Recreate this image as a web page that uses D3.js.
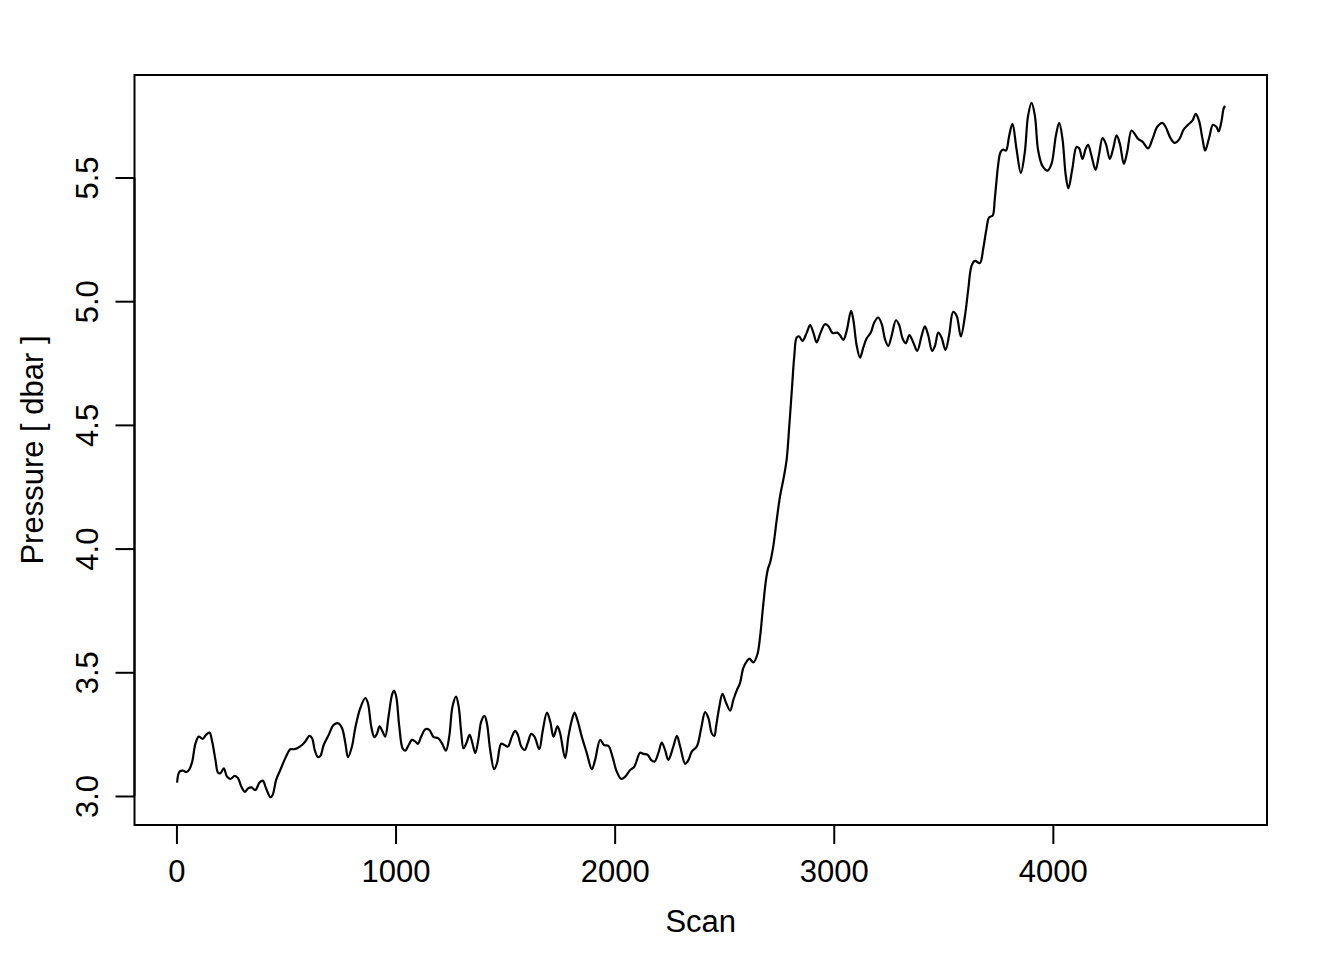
<!DOCTYPE html>
<html>
<head>
<meta charset="utf-8">
<script src="https://cdn.jsdelivr.net/npm/d3@7"></script>
<style>
html,body{margin:0;padding:0;background:#fff;}
svg{display:block;font-family:"Liberation Sans",Arial,Helvetica,sans-serif;}
</style>
</head>
<body>
<svg id="chart" width="1344" height="960"></svg>
<script>
const scan = [3,14,33,44,59,72,87,102,120,135,151,163,178,190,201,216,231,246,266,281,296,312,327,342,360,379,394,409,429,439,455,474,497,520,535,551,573,588,607,619,631,646,657,672,695,717,738,756,771,783,801,816,839,862,874,889,903,915,927,941,953,968,984,993,1003,1017,1032,1044,1060,1075,1090,1102,1117,1136,1154,1174,1194,1212,1230,1245,1260,1276,1288,1300,1310,1323,1338,1349,1364,1379,1391,1406,1417,1432,1450,1463,1482,1497,1513,1531,1546,1558,1574,1589,1604,1619,1634,1656,1671,1691,1706,1721,1739,1751,1774,1789,1805,1817,1832,1850,1873,1896,1911,1934,1952,1972,1990,2010,2030,2048,2071,2090,2116,2131,2151,2166,2182,2200,2215,2230,2245,2268,2284,2299,2322,2337,2352,2375,2395,2413,2428,2443,2455,2463,2478,2492,2508,2527,2542,2557,2572,2587,2603,2615,2633,2651,2664,2676,2691,2701,2709,2724,2740,2755,2770,2785,2797,2808,2820,2831,2843,2857,2877,2892,2907,2922,2940,2960,2975,2995,3016,3028,3044,3059,3079,3089,3105,3120,3135,3150,3169,3185,3203,3219,3234,3249,3264,3284,3299,3314,3329,3345,3363,3381,3401,3416,3431,3449,3462,3477,3492,3510,3526,3545,3561,3580,3599,3614,3629,3644,3667,3682,3697,3709,3725,3735,3750,3761,3773,3786,3801,3816,3834,3854,3872,3887,3903,3918,3933,3953,3976,3994,4014,4029,4044,4059,4071,4089,4108,4120,4135,4150,4161,4176,4195,4210,4227,4242,4260,4275,4291,4306,4324,4339,4359,4374,4389,4409,4435,4455,4476,4500,4515,4537,4556,4576,4597,4617,4637,4652,4667,4683,4695,4713,4731,4747,4757,4769,4780,4786];
const pressure = [3.054,3.098,3.102,3.096,3.108,3.139,3.213,3.240,3.231,3.247,3.256,3.220,3.146,3.094,3.092,3.112,3.078,3.069,3.081,3.072,3.038,3.017,3.031,3.035,3.024,3.054,3.062,3.031,2.995,3.004,3.065,3.105,3.153,3.189,3.189,3.193,3.206,3.220,3.243,3.234,3.186,3.157,3.162,3.206,3.247,3.287,3.294,3.274,3.213,3.157,3.200,3.274,3.355,3.396,3.375,3.281,3.238,3.251,3.281,3.260,3.240,3.321,3.409,3.426,3.402,3.281,3.193,3.183,3.206,3.227,3.220,3.211,3.240,3.270,3.267,3.238,3.234,3.213,3.183,3.240,3.362,3.402,3.362,3.254,3.193,3.213,3.247,3.220,3.173,3.234,3.301,3.324,3.294,3.186,3.108,3.132,3.211,3.206,3.200,3.240,3.263,3.247,3.200,3.186,3.216,3.251,3.240,3.189,3.260,3.337,3.301,3.240,3.281,3.254,3.153,3.240,3.308,3.337,3.301,3.240,3.173,3.108,3.146,3.227,3.206,3.202,3.159,3.098,3.069,3.078,3.105,3.119,3.175,3.170,3.166,3.146,3.139,3.175,3.216,3.186,3.146,3.200,3.243,3.200,3.130,3.146,3.179,3.200,3.274,3.339,3.315,3.254,3.243,3.281,3.362,3.413,3.378,3.345,3.389,3.426,3.456,3.517,3.544,3.555,3.540,3.571,3.645,3.753,3.875,3.922,3.942,4.009,4.118,4.212,4.279,4.360,4.495,4.631,4.779,4.853,4.857,4.839,4.873,4.903,4.873,4.833,4.873,4.907,4.900,4.871,4.873,4.863,4.844,4.880,4.961,4.927,4.819,4.772,4.813,4.849,4.873,4.914,4.934,4.907,4.846,4.819,4.860,4.923,4.903,4.849,4.830,4.863,4.833,4.799,4.860,4.898,4.863,4.799,4.819,4.873,4.853,4.803,4.860,4.957,4.941,4.858,4.941,5.049,5.143,5.163,5.154,5.211,5.292,5.339,5.346,5.413,5.548,5.602,5.613,5.609,5.670,5.717,5.616,5.518,5.602,5.750,5.802,5.750,5.609,5.546,5.528,5.555,5.670,5.721,5.656,5.508,5.456,5.535,5.623,5.618,5.575,5.616,5.632,5.589,5.531,5.589,5.659,5.636,5.575,5.616,5.670,5.636,5.555,5.602,5.690,5.676,5.656,5.645,5.618,5.656,5.704,5.721,5.704,5.659,5.640,5.653,5.694,5.713,5.730,5.757,5.730,5.656,5.609,5.659,5.713,5.704,5.686,5.724,5.780,5.789];
const xTicks = [0,1000,2000,3000,4000];
const yTicks = [3.0,3.5,4.0,4.5,5.0,5.5];
const xTitle = "Scan";
const yTitle = "Pressure [ dbar ]";

const data = scan.map((s,i)=>({s, p: pressure[i]}));
const svg = d3.select("#chart");
const L=134.5, R=1267, T=75, B=825;
const fs = 31;
const ff = "Liberation Sans, Arial, sans-serif";

function padExt(ext){ const r = ext[1]-ext[0]; return [ext[0]-0.04*r, ext[1]+0.04*r]; }
const xDom = padExt([0, d3.max(scan)]);
const yDom = padExt(d3.extent(pressure));
const x = d3.scaleLinear().domain(xDom).range([L,R]);
const y = d3.scaleLinear().domain(yDom).range([B,T]);

// data line
const line = d3.line().x(d=>x(d.s)).y(d=>y(d.p)).curve(d3.curveCatmullRom.alpha(0.5));
svg.append("path").datum(data).attr("d",line)
  .attr("fill","none").attr("stroke","#000").attr("stroke-width",2.2).attr("stroke-linejoin","round");

// box
svg.append("rect").attr("x",L).attr("y",T).attr("width",R-L).attr("height",B-T)
  .attr("fill","none").attr("stroke","#000").attr("stroke-width",2);

// x axis
const xAxis = d3.axisBottom(x).tickValues(xTicks).tickSize(19).tickFormat(d3.format("d"));
const gx = svg.append("g").attr("transform",`translate(0,${B})`).call(xAxis);
gx.select(".domain").attr("d",`M${x(xTicks[0])},0H${x(xTicks[xTicks.length-1])}`).attr("stroke-width",2);
gx.selectAll(".tick line").attr("stroke-width",2);
gx.selectAll(".tick text").attr("font-size",fs).attr("font-family",ff).attr("fill","#000")
  .attr("dy",null).attr("y",57);

// y axis
const yAxis = d3.axisLeft(y).tickValues(yTicks).tickSize(19).tickFormat(d3.format(".1f"));
const gy = svg.append("g").attr("transform",`translate(${L},0)`).call(yAxis);
gy.select(".domain").attr("d",`M0,${y(yTicks[0])}V${y(yTicks[yTicks.length-1])}`).attr("stroke-width",2);
gy.selectAll(".tick line").attr("stroke-width",2);
gy.selectAll(".tick text").attr("font-size",fs).attr("font-family",ff).attr("fill","#000")
  .attr("x",null).attr("dy",null).attr("text-anchor","middle")
  .attr("transform","translate(-36.5,0) rotate(-90)");

// titles
svg.append("text").attr("x",(L+R)/2).attr("y",932).attr("text-anchor","middle")
  .attr("font-size",fs).attr("font-family",ff).attr("fill","#000").text(xTitle);
svg.append("text").attr("transform",`translate(43,${(T+B)/2}) rotate(-90)`).attr("text-anchor","middle")
  .attr("font-size",fs).attr("font-family",ff).attr("fill","#000").text(yTitle);
</script>
</body>
</html>
